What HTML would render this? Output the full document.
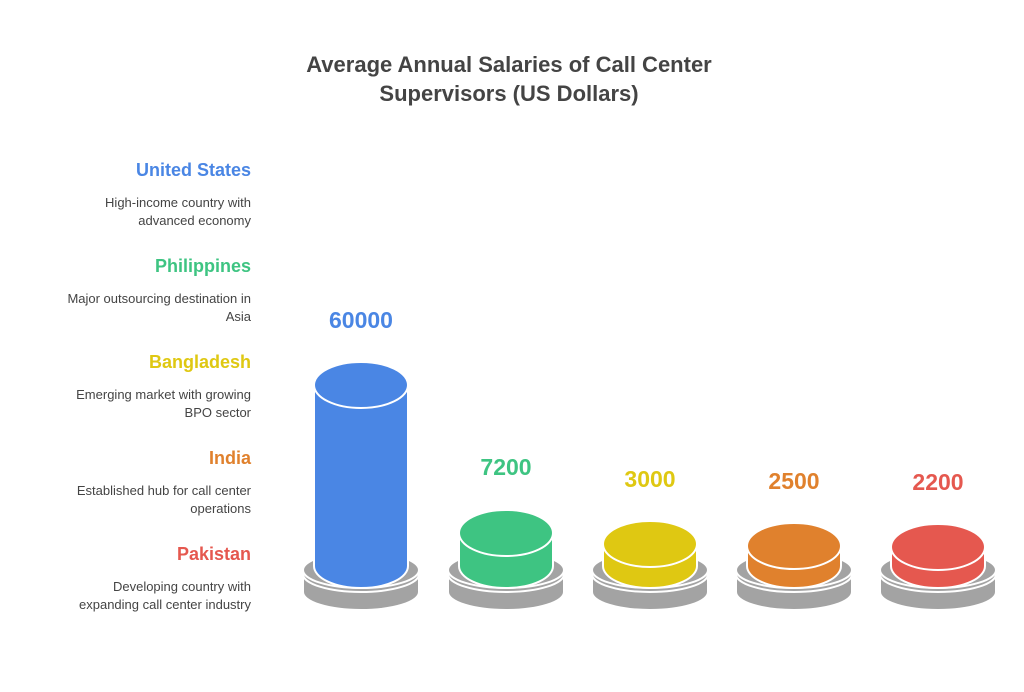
<!DOCTYPE html>
<html><head><meta charset="utf-8"><style>
html,body{margin:0;padding:0;background:#fff;}
body{width:1024px;height:687px;overflow:hidden;position:relative;font-family:"Liberation Sans",sans-serif;}
</style></head><body>
<svg width="1024" height="687" viewBox="0 0 1024 687" xmlns="http://www.w3.org/2000/svg" font-family="Liberation Sans, sans-serif">
<text x="509" y="72" text-anchor="middle" font-size="22" font-weight="bold" fill="#444">Average Annual Salaries of Call Center</text>
<text x="509" y="101" text-anchor="middle" font-size="22" font-weight="bold" fill="#444">Supervisors (US Dollars)</text>
<g text-anchor="end">
<text x="251" y="176" font-size="18" font-weight="bold" fill="#4a86e4">United States</text>
<text x="251" y="207" font-size="13" fill="#444">High-income country with</text>
<text x="251" y="225" font-size="13" fill="#444">advanced economy</text>
<text x="251" y="272" font-size="18" font-weight="bold" fill="#3ec482">Philippines</text>
<text x="251" y="303" font-size="13" fill="#444">Major outsourcing destination in</text>
<text x="251" y="321" font-size="13" fill="#444">Asia</text>
<text x="251" y="368" font-size="18" font-weight="bold" fill="#dfc812">Bangladesh</text>
<text x="251" y="399" font-size="13" fill="#444">Emerging market with growing</text>
<text x="251" y="417" font-size="13" fill="#444">BPO sector</text>
<text x="251" y="464" font-size="18" font-weight="bold" fill="#e0812d">India</text>
<text x="251" y="495" font-size="13" fill="#444">Established hub for call center</text>
<text x="251" y="513" font-size="13" fill="#444">operations</text>
<text x="251" y="560" font-size="18" font-weight="bold" fill="#e5584f">Pakistan</text>
<text x="251" y="591" font-size="13" fill="#444">Developing country with</text>
<text x="251" y="609" font-size="13" fill="#444">expanding call center industry</text>
</g>
<defs>
<g id="base">
<path d="M-58,576 L-58,592 A58,18 0 0 0 58,592 L58,576 Z" fill="#a3a3a3" stroke="#fff" stroke-width="2"/>
<path d="M-58,570 L-58,574 A58,18 0 0 0 58,574 L58,570 Z" fill="#a3a3a3" stroke="#fff" stroke-width="2"/>
<ellipse cx="0" cy="570" rx="58" ry="18" fill="#a3a3a3" stroke="#fff" stroke-width="2"/>
</g>
</defs>
<g font-size="23" font-weight="bold" text-anchor="middle">
<use href="#base" x="361"/>
<path d="M314,385 L314,566 A47,22 0 0 0 408,566 L408,385 Z" fill="#4a86e4" stroke="#fff" stroke-width="2"/>
<ellipse cx="361" cy="385" rx="47" ry="23" fill="#4a86e4" stroke="#fff" stroke-width="2"/>
<text x="361" y="328" fill="#4a86e4">60000</text>

<use href="#base" x="506"/>
<path d="M459,533 L459,566 A47,22 0 0 0 553,566 L553,533 Z" fill="#3ec482" stroke="#fff" stroke-width="2"/>
<ellipse cx="506" cy="533" rx="47" ry="23" fill="#3ec482" stroke="#fff" stroke-width="2"/>
<text x="506" y="475" fill="#3ec482">7200</text>

<use href="#base" x="650"/>
<path d="M603,544 L603,566 A47,22 0 0 0 697,566 L697,544 Z" fill="#dfc812" stroke="#fff" stroke-width="2"/>
<ellipse cx="650" cy="544" rx="47" ry="23" fill="#dfc812" stroke="#fff" stroke-width="2"/>
<text x="650" y="487" fill="#dfc812">3000</text>

<use href="#base" x="794"/>
<path d="M747,546 L747,566 A47,22 0 0 0 841,566 L841,546 Z" fill="#e0812d" stroke="#fff" stroke-width="2"/>
<ellipse cx="794" cy="546" rx="47" ry="23" fill="#e0812d" stroke="#fff" stroke-width="2"/>
<text x="794" y="489" fill="#e0812d">2500</text>

<use href="#base" x="938"/>
<path d="M891,547 L891,566 A47,22 0 0 0 985,566 L985,547 Z" fill="#e5584f" stroke="#fff" stroke-width="2"/>
<ellipse cx="938" cy="547" rx="47" ry="23" fill="#e5584f" stroke="#fff" stroke-width="2"/>
<text x="938" y="490" fill="#e5584f">2200</text>
</g>
</svg>
</body></html>
